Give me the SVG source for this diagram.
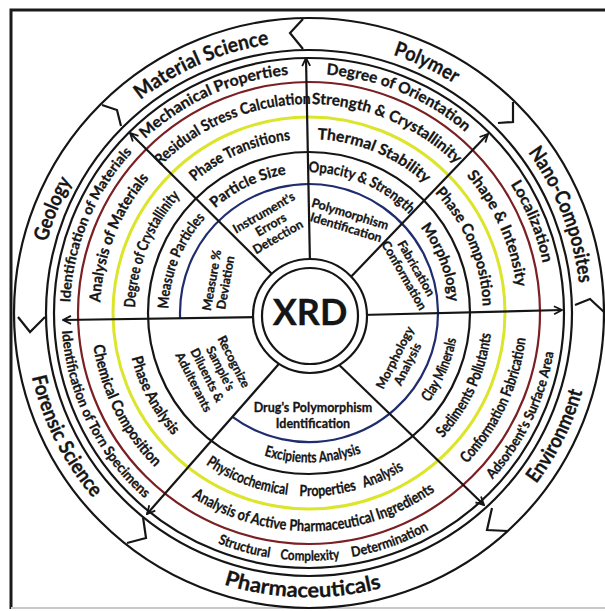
<svg xmlns="http://www.w3.org/2000/svg" width="605" height="611" viewBox="0 0 605 611">
<style>
.ln{fill:none;stroke:#151515;stroke-width:2.2}
.t{font-family:Lato,'Liberation Sans',sans-serif;font-weight:bold;fill:#151515;stroke:#151515;stroke-width:0.3;text-anchor:middle}
.d{font-size:20.5px}
.b{font-size:15.5px}
.c{font-size:15px}
.s{font-size:14px}
.i{font-size:12.5px}
</style>
<defs>
<marker id="ah" viewBox="0 0 10 10" refX="9" refY="5" markerWidth="10" markerHeight="10" markerUnits="userSpaceOnUse" orient="auto">
<path d="M1,1 L9,5 L1,9" fill="none" stroke="#151515" stroke-width="1.8"/>
</marker>
<path id="cw278" d="M 53.9 220.1 A 271.5 271.5 0 0 1 564.1 220.1"/>
<path id="ccw278" d="M 41.7 410.3 A 284.5 284.5 0 0 0 576.3 410.3"/>
<path id="cw243" d="M 85 231.5 A 238 238 0 0 1 533 231.5"/>
<path id="ccw243" d="M 76.3 397.7 A 247.6 247.6 0 0 0 541.7 397.7"/>
<path id="cw213" d="M 112.6 241.5 A 209 209 0 0 1 505.4 241.5"/>
<path id="ccw213" d="M 104.1 387.6 A 218 218 0 0 0 513.9 387.6"/>
<path id="cw178" d="M 145.5 253.5 A 174 174 0 0 1 472.5 253.5"/>
<path id="ccw178" d="M 137 375.6 A 183 183 0 0 0 481 375.6"/>
<path id="cw145" d="M 176.9 264.9 A 140.6 140.6 0 0 1 441.1 264.9"/>
<path id="ccw145" d="M 168.6 364.1 A 149.4 149.4 0 0 0 449.4 364.1"/>
</defs>
<rect width="605" height="611" fill="#fff"/>
<g id="frame">
<path d="M 11 609 L 11 10 L 605 10" fill="none" stroke="#1a1a1a" stroke-width="3"/>
<path d="M 11 608 L 605 608" fill="none" stroke="#c8c8c8" stroke-width="2"/>
</g>
<g id="rings">
<circle class="ln" cx="309" cy="313" r="295"/>
<circle class="ln" cx="309" cy="313" r="263"/>
<circle class="ln" cx="309" cy="313" r="255"/>
<circle cx="309" cy="313" r="231" fill="none" stroke="#7a1f22" stroke-width="2.2"/>
<circle cx="309" cy="313" r="196" fill="none" stroke="#dce52c" stroke-width="3"/>
<circle class="ln" cx="309" cy="313" r="161"/>
<path d="M 232.1 416.6 A 129 129 0 1 0 180.1 318" fill="none" stroke="#1f2d6e" stroke-width="2.2"/>
</g>
<g id="band-chevrons" class="ln">
<polyline points="303,19 290,33 303,49"/>
<polyline points="102,105 117,110 121,126"/>
<polyline points="513,102 513,122 498,123"/>
<polyline points="575,305 590,299 604,312"/>
<polyline points="492,508 487,530 508,531"/>
<polyline points="143,517 146,538 127,543"/>
<polyline points="18,317 30,332 45,317"/>
</g>
<g id="connectors" class="ln" marker-end="url(#ah)">
<line x1="310" y1="265" x2="306" y2="58"/>
<line x1="346" y1="282" x2="488" y2="134"/>
<line x1="361" y1="315" x2="562" y2="310"/>
<line x1="333" y1="359" x2="484" y2="505"/>
<line x1="285" y1="357" x2="147" y2="514"/>
<line x1="259" y1="317" x2="63" y2="320"/>
<line x1="279" y1="281" x2="130" y2="133"/>
</g>
<g id="xrd">
<circle cx="310" cy="316" r="57" fill="#fff" stroke="#151515" stroke-width="2.2"/>
<circle cx="310" cy="316" r="48" fill="#fff" stroke="#151515" stroke-width="2.2"/>
<text x="310" y="325" class="t" style="font-size:36px">XRD</text>
</g>
<g id="geology">
<text class="t d" transform="rotate(-67.9 309 313)"><textPath href="#cw278" startOffset="50%" textLength="66" lengthAdjust="spacingAndGlyphs">Geology</textPath></text>
<text class="t s" transform="rotate(-67.6 309 313)"><textPath href="#cw243" startOffset="50%" textLength="166" lengthAdjust="spacingAndGlyphs">Identification of Materials</textPath></text>
<text class="t b" transform="rotate(-68.5 309 313)"><textPath href="#cw213" startOffset="50%" textLength="136" lengthAdjust="spacingAndGlyphs">Analysis of Materials</textPath></text>
<text class="t b" transform="rotate(-68 309 313)"><textPath href="#cw178" startOffset="50%" textLength="123" lengthAdjust="spacingAndGlyphs">Degree of Crystallinity</textPath></text>
<text class="t c" transform="rotate(-67.9 309 313)"><textPath href="#cw145" startOffset="50%" textLength="100" lengthAdjust="spacingAndGlyphs">Measure Particles</textPath></text>
<text class="t i" transform="translate(219 281.5) rotate(-80)"><tspan x="0" y="-3">Measure %</tspan><tspan x="0" y="11">Deviation</tspan></text>
</g>
<g id="material-science">
<text class="t d" transform="rotate(-23.4 309 313)"><textPath href="#cw278" startOffset="50%" textLength="142" lengthAdjust="spacingAndGlyphs">Material Science</textPath></text>
<text class="t b" transform="rotate(-24.1 309 313)"><textPath href="#cw243" startOffset="50%" textLength="160" lengthAdjust="spacingAndGlyphs">Mechanical Properties</textPath></text>
<text class="t b" transform="rotate(-22.4 309 313)"><textPath href="#cw213" startOffset="50%" textLength="167" lengthAdjust="spacingAndGlyphs">Residual Stress Calculation</textPath></text>
<text class="t b" transform="rotate(-23.6 309 313)"><textPath href="#cw178" startOffset="50%" textLength="106" lengthAdjust="spacingAndGlyphs">Phase Transitions</textPath></text>
<text class="t c" transform="rotate(-25.6 309 313)"><textPath href="#cw145" startOffset="50%" textLength="80" lengthAdjust="spacingAndGlyphs">Particle Size</textPath></text>
<text class="t i" transform="translate(271 225) rotate(-30)"><tspan x="0" y="-10">Instrument's</tspan><tspan x="0" y="4">Errors</tspan><tspan x="0" y="18">Detection</tspan></text>
</g>
<g id="polymer">
<text class="t d" transform="rotate(25.2 309 313)"><textPath href="#cw278" startOffset="50%" textLength="68" lengthAdjust="spacingAndGlyphs">Polymer</textPath></text>
<text class="t b" transform="rotate(22.5 309 313)"><textPath href="#cw243" startOffset="50%" textLength="153" lengthAdjust="spacingAndGlyphs">Degree of Orientation</textPath></text>
<text class="t b" transform="rotate(22.7 309 313)"><textPath href="#cw213" startOffset="50%" textLength="160" lengthAdjust="spacingAndGlyphs">Strength &amp; Crystallinity</textPath></text>
<text class="t b" transform="rotate(22.3 309 313)"><textPath href="#cw178" startOffset="50%" textLength="119" lengthAdjust="spacingAndGlyphs">Thermal Stability</textPath></text>
<text class="t c" transform="rotate(22.6 309 313)"><textPath href="#cw145" startOffset="50%" textLength="112" lengthAdjust="spacingAndGlyphs">Opacity &amp; Strength</textPath></text>
<text class="t i" transform="translate(348 221) rotate(17)"><tspan x="0" y="-3">Polymorphism</tspan><tspan x="0" y="11">Identification</tspan></text>
</g>
<g id="nano-composites">
<text class="t d" transform="rotate(68.7 309 313)"><textPath href="#cw278" startOffset="50%" textLength="142" lengthAdjust="spacingAndGlyphs">Nano-Composites</textPath></text>
<text class="t b" transform="rotate(67.7 309 313)"><textPath href="#cw243" startOffset="50%" textLength="86" lengthAdjust="spacingAndGlyphs">Localization</textPath></text>
<text class="t b" transform="rotate(65.9 309 313)"><textPath href="#cw213" startOffset="50%" textLength="124" lengthAdjust="spacingAndGlyphs">Shape &amp; Intensity</textPath></text>
<text class="t b" transform="rotate(67 309 313)"><textPath href="#cw178" startOffset="50%" textLength="126" lengthAdjust="spacingAndGlyphs">Phase Composition</textPath></text>
<text class="t c" transform="rotate(68.9 309 313)"><textPath href="#cw145" startOffset="50%" textLength="81" lengthAdjust="spacingAndGlyphs">Morphology</textPath></text>
<text class="t i" transform="translate(410 272) rotate(60)"><tspan x="0" y="-3">Fabrication</tspan><tspan x="0" y="11">Conformation</tspan></text>
</g>
<g id="environment">
<text class="t d" transform="rotate(-63.5 309 313)"><textPath href="#ccw278" startOffset="50%" textLength="104" lengthAdjust="spacingAndGlyphs">Environment</textPath></text>
<text class="t s" transform="rotate(-64.3 309 313)"><textPath href="#ccw243" startOffset="50%" textLength="143" lengthAdjust="spacingAndGlyphs">Adsorbent's Surface Area</textPath></text>
<text class="t b" transform="rotate(-64.8 309 313)"><textPath href="#ccw213" startOffset="50%" textLength="141" lengthAdjust="spacingAndGlyphs">Conformation Fabrication</textPath></text>
<text class="t b" transform="rotate(-65.2 309 313)"><textPath href="#ccw178" startOffset="50%" textLength="117" lengthAdjust="spacingAndGlyphs">Sediments Pollutants</textPath></text>
<text class="t c" transform="rotate(-66.6 309 313)"><textPath href="#ccw145" startOffset="50%" textLength="70" lengthAdjust="spacingAndGlyphs">Clay Minerals</textPath></text>
<text class="t i" transform="translate(401.5 361) rotate(-63)"><tspan x="0" y="-3">Morphology</tspan><tspan x="0" y="11">Analysis</tspan></text>
</g>
<g id="pharmaceuticals">
<text class="t d" style="font-size:21px" transform="rotate(1.3 309 313)"><textPath href="#ccw278" startOffset="50%" textLength="160" lengthAdjust="spacingAndGlyphs">Pharmaceuticals</textPath></text>
<text class="t s" transform="rotate(15.4 309 313)"><textPath href="#ccw243" startOffset="50%" textLength="54" lengthAdjust="spacingAndGlyphs">Structural</textPath></text>
<text class="t s" transform="rotate(-0.2 309 313)"><textPath href="#ccw243" startOffset="50%" textLength="60" lengthAdjust="spacingAndGlyphs">Complexity</textPath></text>
<text class="t s" transform="rotate(-19.5 309 313)"><textPath href="#ccw243" startOffset="50%" textLength="82" lengthAdjust="spacingAndGlyphs">Determination</textPath></text>
<text class="t b" transform="rotate(-1.4 309 313)"><textPath href="#ccw213" startOffset="50%" textLength="258" lengthAdjust="spacingAndGlyphs">Analysis of Active Pharmaceutical Ingredients</textPath></text>
<text class="t b" transform="rotate(20.5 309 313)"><textPath href="#ccw178" startOffset="50%" textLength="88" lengthAdjust="spacingAndGlyphs">Physicochemical</textPath></text>
<text class="t b" transform="rotate(-6 309 313)"><textPath href="#ccw178" startOffset="50%" textLength="58" lengthAdjust="spacingAndGlyphs">Properties</textPath></text>
<text class="t b" transform="rotate(-24.4 309 313)"><textPath href="#ccw178" startOffset="50%" textLength="44" lengthAdjust="spacingAndGlyphs">Analysis</textPath></text>
<text class="t c" transform="rotate(-1.5 309 313)"><textPath href="#ccw145" startOffset="50%" textLength="99" lengthAdjust="spacingAndGlyphs">Excipients Analysis</textPath></text>
<text class="t i"><tspan x="313" y="412">Drug's Polymorphism</tspan><tspan x="313" y="428">Identification</tspan></text>
</g>
<g id="forensic-science">
<text class="t d" transform="rotate(63.2 309 313)"><textPath href="#ccw278" startOffset="50%" textLength="137" lengthAdjust="spacingAndGlyphs">Forensic Science</textPath></text>
<text class="t s" transform="rotate(63.7 309 313)"><textPath href="#ccw243" startOffset="50%" textLength="192" lengthAdjust="spacingAndGlyphs">Identification of Torn Specimens</textPath></text>
<text class="t b" transform="rotate(63.2 309 313)"><textPath href="#ccw213" startOffset="50%" textLength="139" lengthAdjust="spacingAndGlyphs">Chemical Composition</textPath></text>
<text class="t b" transform="rotate(61.9 309 313)"><textPath href="#ccw178" startOffset="50%" textLength="89" lengthAdjust="spacingAndGlyphs">Phase Analysis</textPath></text>
<text class="t i" transform="translate(213.5 372) rotate(63)"><tspan x="0" y="-18.5">Recognize</tspan><tspan x="0" y="-3.5">Sample's</tspan><tspan x="0" y="11.5">Diluents &amp;</tspan><tspan x="0" y="26.5">Adulterants</tspan></text>
</g>
</svg>
